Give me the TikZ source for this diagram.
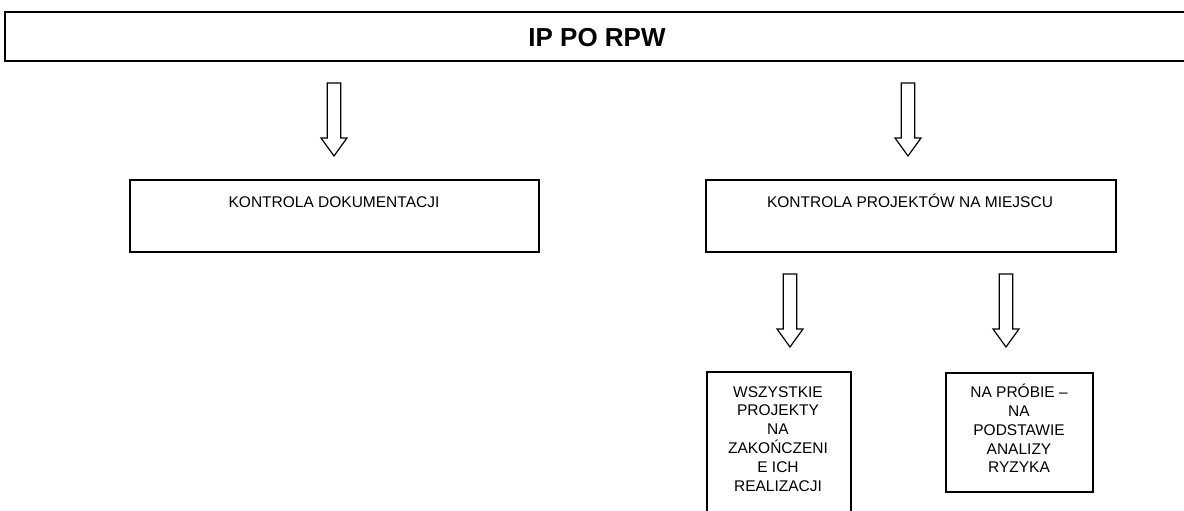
\documentclass[tikz,border=0pt]{standalone}
\usepackage{fontspec}
\setmainfont{Liberation Sans}
\begin{document}
\begin{tikzpicture}[x=1pt,y=-1pt,
  box/.style={draw=black, line width=1.8pt, inner sep=0pt},
  lbl/.style={font=\fontsize{15.5}{18.8}\selectfont, align=center, inner sep=0pt},
  hollow arrow/.pic={\draw[line width=1.2pt, line join=miter]
     (-6.75,0) -- (-6.75,55) -- (-13,55) -- (0,73) -- (13,55) -- (6.75,55) -- (6.75,0) -- cycle;}]
\useasboundingbox (0,0) rectangle (1184,511);
\fill[white] (0,0) rectangle (1184,511);
% title bar
\node[box, anchor=north west, minimum width=1190pt, minimum height=49pt] (top) at (4,11) {};
\node[font=\fontsize{26}{30}\selectfont\bfseries, inner sep=0pt, anchor=base] (title) at (597,47) {IP PO RPW};
% second level
\node[box, anchor=north west, minimum width=409pt, minimum height=72pt] (kd) at (129,179) {};
\node[lbl, anchor=base] (kdt) at (334,207) {KONTROLA DOKUMENTACJI};
\node[box, anchor=north west, minimum width=410pt, minimum height=72pt] (kp) at (705,179) {};
\node[lbl, anchor=base] (kpt) at (910,207) {KONTROLA PROJEKTÓW NA MIEJSCU};
% third level
\node[box, anchor=north west, minimum width=144pt, minimum height=160pt] (wsz) at (706,371) {};
\node[lbl, anchor=north] (wszt) at (778,386) {WSZYSTKIE\\PROJEKTY\\NA\\ZAKOŃCZENI\\E ICH\\REALIZACJI};
\node[box, anchor=north west, minimum width=147pt, minimum height=119pt] (np) at (945,372) {};
\node[lbl, anchor=north] (npt) at (1019,384) {NA PRÓBIE –\\NA\\PODSTAWIE\\ANALIZY\\RYZYKA};
% arrows
\pic at (334,83) {hollow arrow};
\pic at (908,83) {hollow arrow};
\pic at (790,274) {hollow arrow};
\pic at (1006,274) {hollow arrow};
\end{tikzpicture}
\end{document}
